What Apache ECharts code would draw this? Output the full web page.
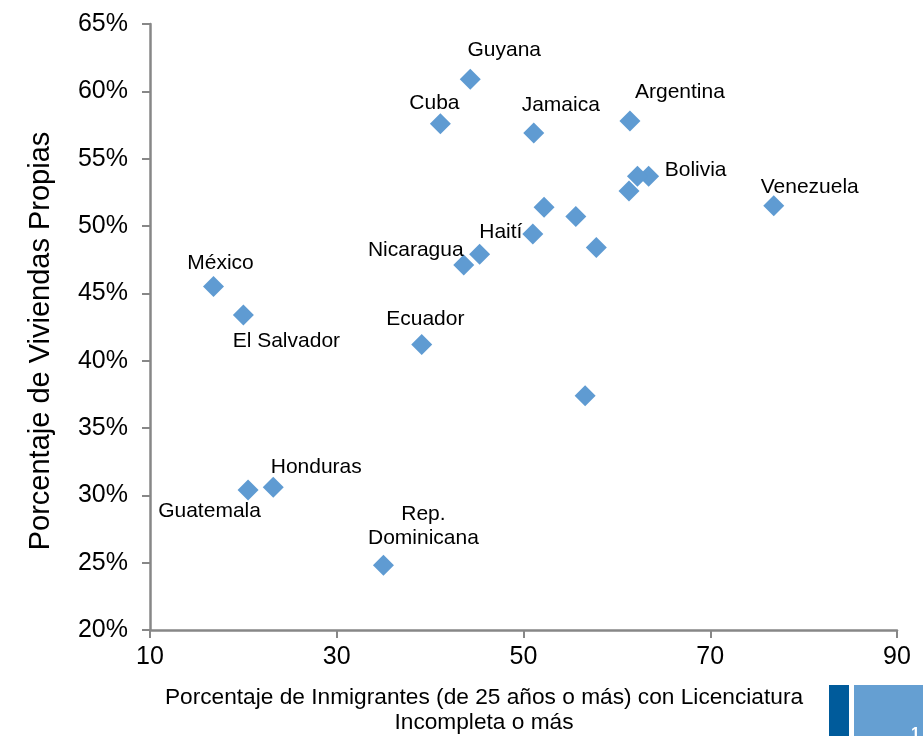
<!DOCTYPE html>
<html>
<head>
<meta charset="utf-8">
<script src="https://cdn.jsdelivr.net/npm/echarts@6/dist/echarts.min.js"></script>
<style>
html,body{margin:0;padding:0;background:#fff;}
#chart{width:923px;height:736px;}
</style>
</head>
<body>
<div id="chart"></div>
<script>
// ---- Data ----
const countries = ['Guyana','Cuba','Jamaica','Argentina','Bolivia','','','Venezuela','','','Haití','','Nicaragua','','México','El Salvador','Ecuador','','Honduras','Guatemala','Rep.\nDominicana'];
const xValues = [44.3, 41.1, 51.1, 61.4, 63.4, 62.2, 61.3, 76.8, 52.2, 55.6, 51.0, 57.8, 43.6, 45.3, 16.8, 20.0, 39.1, 56.6, 23.2, 20.5, 35.0];
const yValues = [60.9, 57.6, 56.9, 57.8, 53.7, 53.7, 52.6, 51.5, 51.4, 50.7, 49.4, 48.4, 47.1, 47.9, 45.5, 43.4, 41.2, 37.4, 30.6, 30.4, 24.8];
const xTicks = [10, 30, 50, 70, 90];
const yTicks = [20, 25, 30, 35, 40, 45, 50, 55, 60, 65];
const xTitle = 'Porcentaje de Inmigrantes (de 25 años o más) con Licenciatura\nIncompleta o más';
const yTitle = 'Porcentaje de Viviendas Propias';

// ---- Label placement (style) ----
const labelOffsets = {
  'Guyana': [34, -29],
  'Cuba': [-6, -20],
  'Jamaica': [27, -28],
  'Argentina': [50, -29],
  'Bolivia': [47, -6],
  'Venezuela': [36, -19],
  'Haití': [-32, -1.5],
  'Nicaragua': [-48, -15],
  'México': [7, -23.5],
  'El Salvador': [43, 26.5],
  'Ecuador': [3.6, -25],
  'Honduras': [43, -20],
  'Guatemala': [-38.5, 21.5],
  'Rep.\nDominicana': [40, -39]
};

const seriesData = countries.map((name, i) => {
  const item = { name: name, value: [xValues[i], yValues[i]] };
  if (name) {
    item.label = { show: true, offset: labelOffsets[name] };
  }
  return item;
});

const chart = echarts.init(document.getElementById('chart'), null, { renderer: 'canvas' });
const FONT = '"Liberation Sans", Arial, Helvetica, sans-serif';
const axisColor = '#878787';

chart.setOption({
  animation: false,
  backgroundColor: '#ffffff',
  grid: { left: 150, right: 26, top: 24, bottom: 106, containLabel: false },
  xAxis: {
    type: 'value',
    min: 10, max: 90,
    axisLine: { show: true, lineStyle: { color: axisColor, width: 2.5 } },
    axisTick: { show: true, length: 8, customValues: xTicks, lineStyle: { color: axisColor, width: 2 } },
    axisLabel: { customValues: xTicks, fontSize: 25, color: '#000', fontFamily: FONT, margin: 15 },
    splitLine: { show: false }
  },
  yAxis: {
    type: 'value',
    min: 20, max: 65,
    axisLine: { show: true, onZero: false, lineStyle: { color: axisColor, width: 2.5 } },
    axisTick: { show: true, length: 8, customValues: yTicks, lineStyle: { color: axisColor, width: 2 } },
    axisLabel: { customValues: yTicks, fontSize: 25, color: '#000', fontFamily: FONT, margin: 22, formatter: '{value}%' },
    splitLine: { show: false }
  },
  series: [{
    type: 'scatter',
    symbol: 'diamond',
    symbolSize: 21,
    itemStyle: { color: '#5F9BD2', opacity: 1 },
    label: {
      show: false,
      position: 'inside',
      formatter: '{b}',
      color: '#000',
      fontSize: 21,
      fontFamily: FONT,
      align: 'center',
      verticalAlign: 'middle',
      lineHeight: 24
    },
    emphasis: { disabled: true },
    data: seriesData
  }],
  graphic: [
    {
      type: 'text',
      x: 41, y: 341,
      rotation: Math.PI / 2,
      style: { text: yTitle, font: '29px ' + FONT, fill: '#000', align: 'center', verticalAlign: 'middle' }
    },
    {
      type: 'text',
      x: 484, y: 710,
      style: { text: xTitle, font: '22.7px ' + FONT, fill: '#000', align: 'center', verticalAlign: 'middle', lineHeight: 25 }
    },
    { type: 'rect', shape: { x: 829, y: 685, width: 20, height: 60 }, style: { fill: '#005B9B' } },
    { type: 'rect', shape: { x: 854, y: 685, width: 80, height: 60 }, style: { fill: '#659FD2' } },
    {
      type: 'text',
      x: 911, y: 727,
      style: { text: '1', font: 'bold 16px ' + FONT, fill: '#ffffff', align: 'left', verticalAlign: 'top' }
    }
  ]
});
</script>
</body>
</html>
